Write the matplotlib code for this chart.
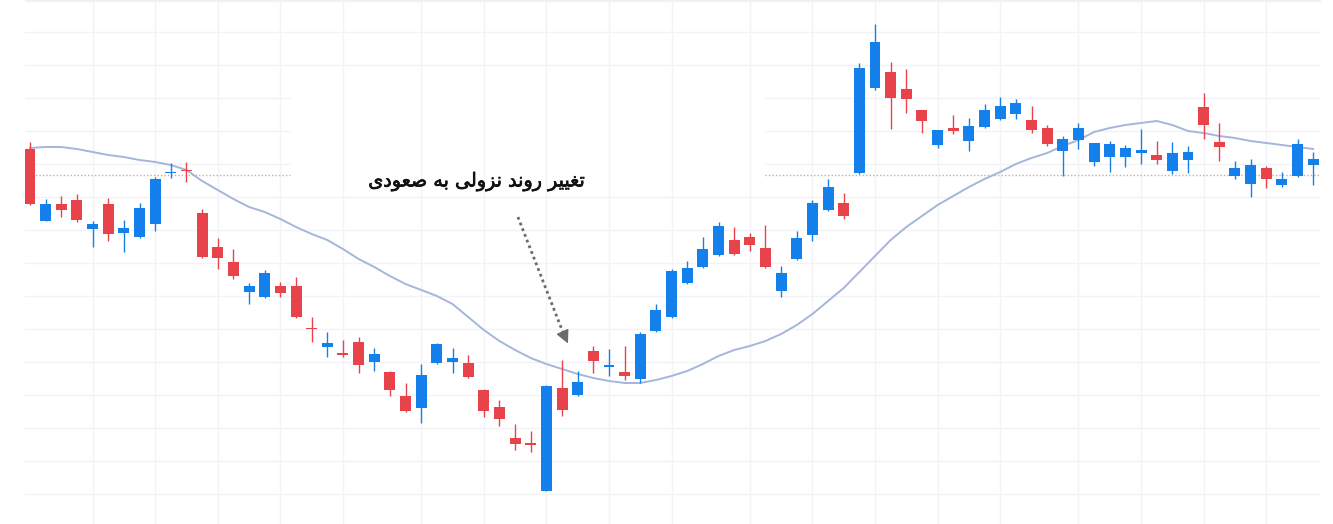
import matplotlib
matplotlib.use("Agg")
import matplotlib.pyplot as plt
import matplotlib.patheffects as pe
import numpy as np

# candle data (price units)
opens = [351, 279, 296, 300, 271, 296, 267, 263, 276, 327,
         330, 287, 253, 238, 208, 203, 214, 214, 172, 153,
         147, 158, 138, 128, 104, 92, 137, 138, 137, 110,
         93, 62, 57, 9, 112, 105, 149, 133, 128, 121,
         169, 183, 217, 233, 245, 260, 263, 252, 209, 241,
         265, 290, 297, 327, 412, 428, 411, 390, 355, 372,
         359, 373, 381, 386, 380, 372, 349, 360, 338, 343,
         343, 347, 345, 329, 340, 393, 358, 324, 316, 332,
         315, 324, 335]
closes = [296, 296, 290, 280, 276, 266, 272, 292, 321, 328,
          329, 243, 242, 224, 214, 227, 207, 183, 171, 157,
          145, 135, 146, 110, 89, 125, 156, 142, 123, 89,
          81, 56, 55, 114, 90, 118, 139, 135, 124, 166,
          190, 229, 232, 251, 274, 246, 255, 233, 227, 262,
          297, 313, 284, 432, 458, 402, 401, 379, 370, 369,
          374, 390, 394, 397, 370, 356, 361, 372, 357, 356,
          352, 350, 340, 347, 348, 375, 353, 332, 335, 321,
          321, 356, 341]
highs = [358, 301, 304, 306, 279, 302, 280, 297, 323, 337,
         338, 291, 262, 251, 217, 230, 218, 223, 183, 168,
         160, 163, 152, 129, 117, 136, 157, 152, 145, 111,
         100, 76, 69, 115, 140, 129, 154, 151, 154, 168,
         196, 231, 239, 263, 278, 273, 267, 275, 234, 269,
         300, 321, 307, 437, 476, 438, 431, 390, 370, 385,
         382, 396, 403, 401, 394, 375, 364, 377, 357, 359,
         355, 371, 359, 358, 354, 407, 377, 339, 341, 334,
         328, 361, 348]
lows = [295, 279, 283, 278, 253, 259, 248, 262, 269, 322,
        318, 242, 231, 221, 196, 202, 203, 182, 158, 143,
        143, 127, 129, 104, 88, 77, 136, 127, 122, 83,
        74, 50, 48, 9, 84, 104, 127, 124, 120, 117,
        168, 182, 216, 232, 244, 245, 249, 232, 203, 240,
        259, 289, 281, 326, 410, 371, 387, 367, 352, 366,
        349, 372, 380, 381, 367, 354, 324, 351, 334, 328,
        333, 336, 336, 326, 327, 361, 339, 321, 303, 312,
        313, 323, 315]
moving_avg = [352, 353, 353, 351, 348, 345, 343, 340, 338, 335,
              330, 319, 310, 301, 293, 288, 281, 273, 266, 260,
              251, 241, 233, 224, 216, 210, 204, 196, 183, 170,
              159, 150, 142, 136, 131, 126, 122, 119, 117, 117,
              120, 124, 129, 136, 144, 150, 154, 159, 166, 175,
              186, 199, 212, 228, 244, 260, 273, 284, 295, 304,
              313, 321, 328, 336, 342, 347, 354, 360, 368, 372,
              375, 377, 379, 375, 369, 367, 364, 362, 359, 357,
              355, 353, 351]

support_level = 325
grid_prices = [468, 435, 402, 369, 336, 303, 270, 237, 204, 171, 138, 105, 72, 39, 6]
grid_days = [4, 8, 12, 16, 20, 25, 29, 33, 37, 41, 46, 50, 54, 58, 62, 67, 71, 75, 79]
label = "تغییر روند نزولی به صعودی"

UP = "#1380ec"
DOWN = "#e8434b"

# simple arabic/persian letter shaping (matplotlib has no shaping engine)
FORMS = {
    "ت": ("\uFE95", "\uFE96", "\uFE97", "\uFE98"),
    "غ": ("\uFECD", "\uFECE", "\uFECF", "\uFED0"),
    "ی": ("\uFEEF", "\uFEF0", "\uFEF3", "\uFEF4"),
    "ر": ("\uFEAD", "\uFEAE", "\uFEAD", "\uFEAE"),
    "و": ("\uFEED", "\uFEEE", "\uFEED", "\uFEEE"),
    "ن": ("\uFEE5", "\uFEE6", "\uFEE7", "\uFEE8"),
    "د": ("\uFEA9", "\uFEAA", "\uFEA9", "\uFEAA"),
    "ز": ("\uFEAF", "\uFEB0", "\uFEAF", "\uFEB0"),
    "ل": ("\uFEDD", "\uFEDE", "\uFEDF", "\uFEE0"),
    "ب": ("\uFE8F", "\uFE90", "\uFE91", "\uFE92"),
    "ه": ("\uFEE9", "\uFEEA", "\uFEEB", "\uFEEC"),
    "ص": ("\uFEB9", "\uFEBA", "\uFEBB", "\uFEBC"),
    "ع": ("\uFEC9", "\uFECA", "\uFECB", "\uFECC"),
}
NO_LEFT_JOIN = set("اآدذرزژو")


def shape(text):
    words = []
    for w in text.split(" "):
        s = ""
        for k, ch in enumerate(w):
            prev = w[k - 1] if k > 0 else None
            nxt = w[k + 1] if k < len(w) - 1 else None
            jp = prev is not None and prev not in NO_LEFT_JOIN
            jn = nxt is not None and ch not in NO_LEFT_JOIN
            iso, fin, ini, med = FORMS.get(ch, (ch, ch, ch, ch))
            if jp and jn:
                s += med
            elif jp:
                s += fin
            elif jn:
                s += ini
            else:
                s += iso
        words.append(s[::-1])
    return " ".join(words[::-1])


fig = plt.figure(figsize=(13.33, 5.24), dpi=100)
ax = fig.add_axes([25 / 1333, 0, (1321 - 25) / 1333, 1])
x = np.arange(len(opens))
ax.set_xlim(-0.32, 82.5)
ax.set_ylim(-24, 500)

gc = "#f1f3f6"
box_l, box_r = 16.6, 47.0
for p in grid_prices:
    if p in (402, 369, 336):
        ax.hlines(p, -0.32, box_l, color=gc, lw=1, zorder=0)
        ax.hlines(p, box_r, 82.5, color=gc, lw=1, zorder=0)
    else:
        ax.axhline(p, color=gc, lw=1, zorder=0)
for d in grid_days:
    ax.axvline(d, color=gc, lw=1, zorder=0)
ax.axhline(499, color="#f1f1f1", lw=1.5, zorder=0)

ax.hlines(support_level, -0.32, box_l, color="#dba2a6", lw=1, linestyles=(0, (1, 1.5)), zorder=1)
ax.hlines(support_level, box_r, 82.5, color="#dba2a6", lw=1, linestyles=(0, (1, 1.5)), zorder=1)

ax.plot(x, moving_avg, color="#a4b6da", lw=1.4, zorder=2)

o = np.array(opens)
c = np.array(closes)
cols = [UP if cc >= oo else DOWN for oo, cc in zip(o, c)]
ax.vlines(x, lows, highs, colors=cols, lw=1, zorder=3)
h = np.maximum(np.abs(c - o), 1.5)
ax.bar(x, h, bottom=np.minimum(o, c), width=0.7, color=cols, zorder=4)

ax.text(28.56, 318, shape(label), ha="center", va="center", fontsize=13.8,
        family=["DejaVu Sans"], color="#111111",
        path_effects=[pe.withStroke(linewidth=0.5, foreground="#111111")])
ax.plot([31.18, 34.2], [283, 162], color="#6b6b6b", lw=2, linestyle=(0, (1, 1.2)), zorder=5)
ax.annotate("", xy=(34.45, 154), xytext=(34.1, 166),
            arrowprops=dict(arrowstyle="-|>,head_length=0.8,head_width=0.4", color="#6b6b6b", lw=1))

ax.axis("off")
fig.savefig("out.png", dpi=100, facecolor="white")
